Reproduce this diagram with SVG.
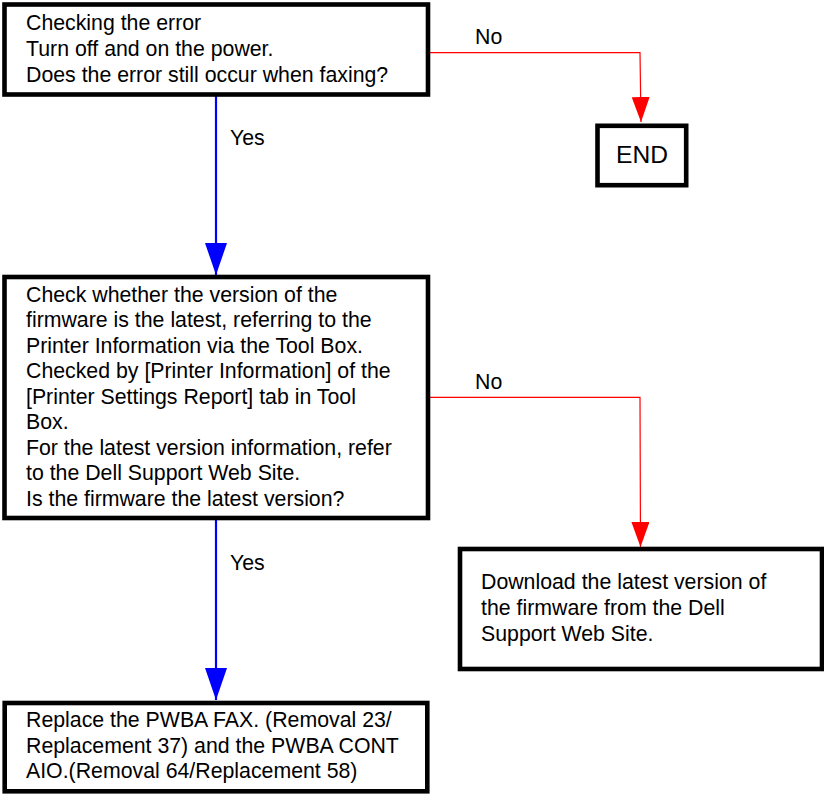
<svg xmlns="http://www.w3.org/2000/svg" width="824" height="794" viewBox="0 0 824 794">
  <style>
    .box { fill: #ffffff; stroke: #000000; stroke-width: 4.6; }
    .txt { font-family: "Liberation Sans", Arial, sans-serif; font-size: 21.3px; fill: #000000; }
    .end { font-family: "Liberation Sans", Arial, sans-serif; font-size: 24.6px; fill: #000000; }
    .yes { fill: none; stroke: #0000ff; stroke-width: 2.2; }
    .no { fill: none; stroke: #ff0000; stroke-width: 1.2; }
  </style>
  <defs>
    <marker id="arrow-blue" markerUnits="userSpaceOnUse" markerWidth="32" markerHeight="22" refX="32" refY="11" orient="auto" viewBox="0 0 32 22">
      <path d="M0,0 L32,11 L0,22 Z" fill="#0000ff"/>
    </marker>
    <marker id="arrow-red" markerUnits="userSpaceOnUse" markerWidth="25" markerHeight="18" refX="25" refY="9" orient="auto" viewBox="0 0 25 18">
      <path d="M0,0 L25,9 L0,18 Z" fill="#ff0000"/>
    </marker>
  </defs>

  <g id="connectors">
    <path class="yes" d="M216,96 L216,275" marker-end="url(#arrow-blue)"/>
    <path class="yes" d="M216,520 L216,700" marker-end="url(#arrow-blue)"/>
    <path class="no" d="M430,52.7 L640,52.7 L641,122" marker-end="url(#arrow-red)"/>
    <path class="no" d="M430,397.3 L640,397.3 L640.5,547" marker-end="url(#arrow-red)"/>
    <text class="txt" x="230" y="145">Yes</text>
    <text class="txt" x="230" y="570">Yes</text>
    <text class="txt" x="475" y="44">No</text>
    <text class="txt" x="475" y="388.5">No</text>
  </g>

  <g id="check-error">
    <rect class="box" x="4.5" y="4.5" width="423.5" height="90"/>
    <text class="txt" x="26" y="30">Checking the error</text>
    <text class="txt" x="26" y="55.8">Turn off and on the power.</text>
    <text class="txt" x="26" y="81.6">Does the error still occur when faxing?</text>
  </g>

  <g id="end">
    <rect class="box" x="597.5" y="125.8" width="88.7" height="59.4"/>
    <text class="end" x="642" y="163" text-anchor="middle">END</text>
  </g>

  <g id="check-firmware">
    <rect class="box" x="4.5" y="277" width="423.5" height="241"/>
    <text class="txt" x="26" y="301.7">Check whether the version of the</text>
    <text class="txt" x="26" y="327.2">firmware is the latest, referring to the</text>
    <text class="txt" x="26" y="352.7">Printer Information via the Tool Box.</text>
    <text class="txt" x="26" y="378.2">Checked by [Printer Information] of the</text>
    <text class="txt" x="26" y="403.7">[Printer Settings Report] tab in Tool</text>
    <text class="txt" x="26" y="429.2">Box.</text>
    <text class="txt" x="26" y="454.7">For the latest version information, refer</text>
    <text class="txt" x="26" y="480.2">to the Dell Support Web Site.</text>
    <text class="txt" x="26" y="505.7">Is the firmware the latest version?</text>
  </g>

  <g id="download-firmware">
    <rect class="box" x="460" y="549" width="362" height="120"/>
    <text class="txt" x="481" y="589.3">Download the latest version of</text>
    <text class="txt" x="481" y="615">the firmware from the Dell</text>
    <text class="txt" x="481" y="640.7">Support Web Site.</text>
  </g>

  <g id="replace-boards">
    <rect class="box" x="4.7" y="703" width="422.6" height="88.3"/>
    <text class="txt" x="26" y="726.7">Replace the PWBA FAX. (Removal 23/</text>
    <text class="txt" x="26" y="752.5">Replacement 37) and the PWBA CONT</text>
    <text class="txt" x="26" y="778.3">AIO.(Removal 64/Replacement 58)</text>
  </g>
</svg>
